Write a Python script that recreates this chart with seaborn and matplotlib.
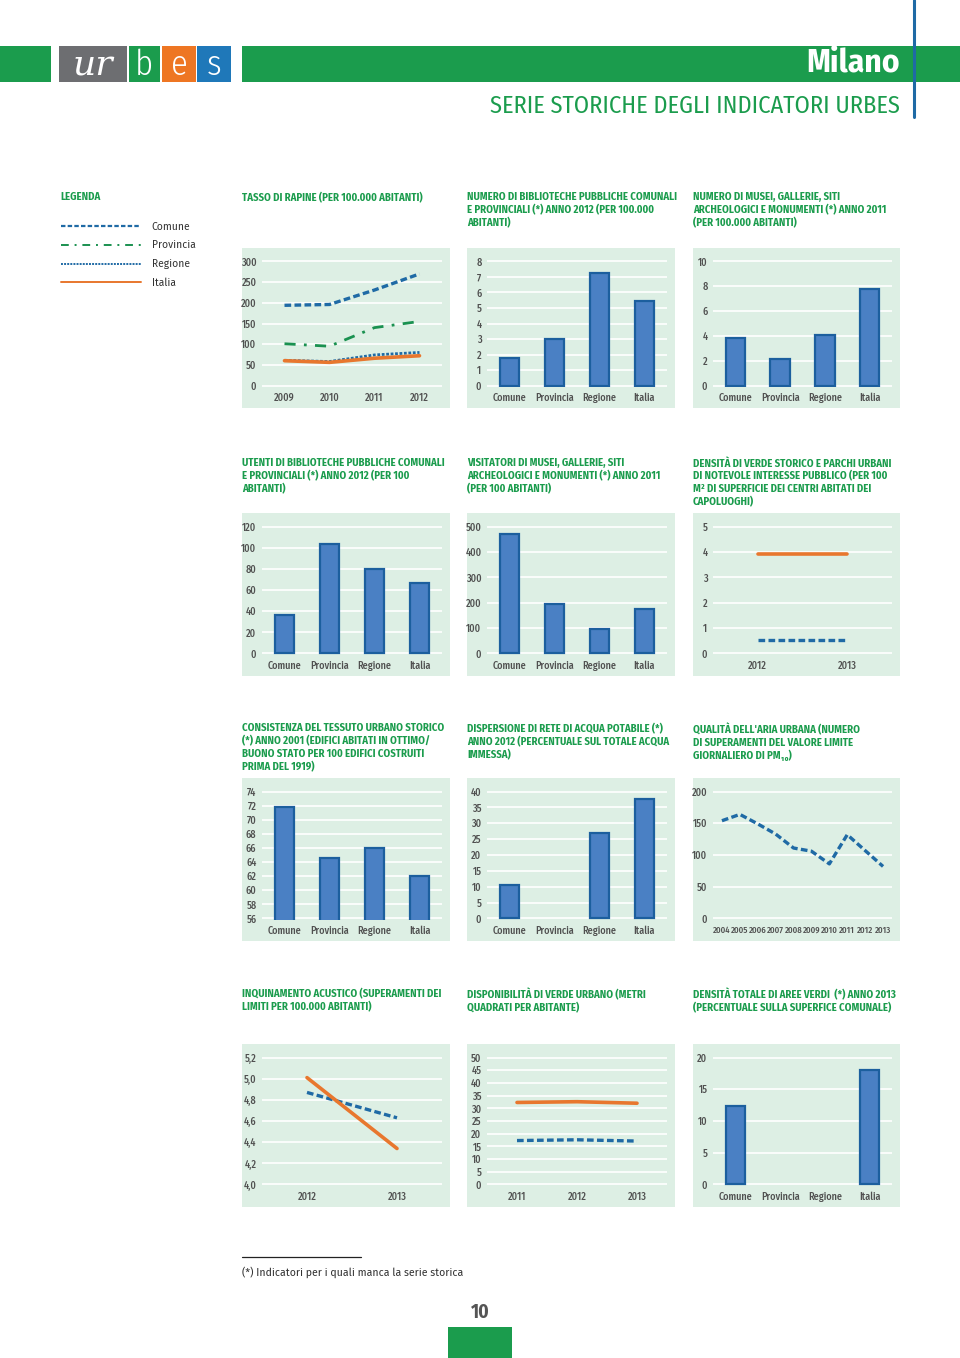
import pandas as pd
import seaborn as sns
import matplotlib.pyplot as plt
from matplotlib.patches import Rectangle
from matplotlib.lines import Line2D

sns.set_theme(style="white")
CONDENSATO = ['Fira Sans Condensed', 'DejaVu Sans']
NORMALE = ['Fira Sans', 'DejaVu Sans']
plt.rcParams['font.family'] = CONDENSATO

# colori
VERDE = '#1b9c4d'
SFONDO = '#ddefe4'
BLU = '#1f6aa5'
BARRA = '#4a80c4'
BORDO = '#1c5f9e'
ARANCIO = '#e8772e'
VERDE_LINEA = '#1a9150'
GRIGIO = '#505050'

territori = ['Comune', 'Provincia', 'Regione', 'Italia']

# tasso di rapine
anni_rapine = ['2009', '2010', '2011', '2012']
rapine_comune = [194, 196, 231, 270]
rapine_provincia = [101, 95, 140, 155]
rapine_regione = [61, 58, 74, 80]
rapine_italia = [60, 56, 66, 72]

# grafici a barre
biblioteche = [1.8, 3.0, 7.25, 5.45]
musei = [3.85, 2.1, 4.05, 7.75]
utenti_biblioteche = [36, 103.5, 80, 66.5]
visitatori_musei = [470, 196, 98, 177]
tessuto_storico = [71.85, 64.6, 66.0, 62.0]
dispersione_acqua = [10.6, None, 26.9, 37.7]
aree_verdi = [12.3, None, None, 18.1]

# verde storico
anni_verde_storico = ['2012', '2013']
verde_storico_comune = [0.55, 0.55]
verde_storico_italia = [3.9, 3.9]

# pm10
anni_pm10 = ['2004', '2005', '2006', '2007', '2008', '2009', '2010', '2011', '2012', '2013']
pm10_comune = [154, 164, 149, 133, 111, 106, 86, 132, 107, 82]

# inquinamento acustico
anni_acustico = ['2012', '2013']
acustico_comune = [4.87, 4.63]
acustico_italia = [5.01, 4.34]

# verde urbano
anni_verde_urbano = ['2011', '2012', '2013']
verde_urbano_comune = [17.3, 17.6, 17.1]
verde_urbano_italia = [32.3, 32.6, 32.0]

# stili delle linee
st_comune = dict(color=BLU, linewidth=2.4, linestyle=(0, (2, 1)))
st_provincia = dict(color=VERDE_LINEA, linewidth=2.0, linestyle=(0, (4, 3, 1, 3)))
st_regione = dict(color=BLU, linewidth=2.0, linestyle=(0, (1, 0.6)))
st_italia = dict(color=ARANCIO, linewidth=2.6, linestyle='-')

W, H = 960, 1358
fig = plt.figure(figsize=(W / 100, H / 100), dpi=100)


def fx(x):
    return x / W


def fy(y):
    return 1 - y / H


def rett(x0, y0, x1, y1, colore, z=-5):
    fig.patches.append(Rectangle((fx(x0), fy(y1)), (x1 - x0) / W, (y1 - y0) / H,
                                 transform=fig.transFigure, facecolor=colore,
                                 edgecolor='none', zorder=z))


def pannello(x0, y0, x1, y1, titolo, ty):
    rett(x0, y0, x1, y1, SFONDO)
    fig.text(fx(x0), fy(ty), titolo, color=VERDE, fontsize=7.7, fontweight='bold',
             va='top', ha='left', linespacing=1.22)
    ax = fig.add_axes([fx(x0 + 20), fy(y1 - 21), (x1 - x0 - 28) / W, (y1 - y0 - 33) / H])
    ax.set_facecolor('none')
    return ax


def rifinisci(ax, yticks, etichette=None):
    lo, hi = yticks[0], yticks[-1]
    m = (hi - lo) * 0.012
    ax.set_ylim(lo - m, hi + m)
    if etichette is None:
        etichette = [f'{t:g}' for t in yticks]
    ax.set_yticks(yticks, etichette)
    for s in ax.spines.values():
        s.set_visible(False)
    ax.grid(False)
    ax.grid(axis='y', color='white', linewidth=1.2)
    ax.set_axisbelow(True)
    ax.tick_params(length=0, labelsize=7.3, labelcolor=GRIGIO, pad=4)
    for t in ax.get_xticklabels() + ax.get_yticklabels():
        t.set_fontweight(500)
    ax.set_xlabel('')
    ax.set_ylabel('')


def barre(ax, valori, yticks):
    df = pd.DataFrame({'territorio': territori, 'valore': valori}).dropna()
    sns.barplot(data=df, x='territorio', y='valore', order=territori, color=BARRA,
                edgecolor=BORDO, linewidth=1.6, width=0.44, saturation=1, ax=ax)
    ax.set_xlim(-0.5, 3.5)
    rifinisci(ax, yticks)


def linee(ax, anni, serie, yticks, etichette=None):
    pos = list(range(len(anni)))
    for valori, stile in serie:
        sns.lineplot(x=pos, y=valori, ax=ax, **stile)
    ax.set_xlim(-0.5, len(anni) - 0.5)
    ax.set_xticks(pos, anni)
    rifinisci(ax, yticks, etichette)


# intestazione
rett(0, 46, 51, 82, VERDE)
rett(242, 46, 960, 82, VERDE)
rett(59, 46, 127, 82, '#6d6e71')
rett(129, 46, 160, 82, VERDE)
rett(162, 46, 196, 82, '#ee7623')
rett(197, 46, 231, 82, '#1f78b9')
fig.text(fx(93), fy(66), 'ur', color='white', fontsize=26, style='italic',
         family='DejaVu Serif', ha='center', va='center')
for xc, lettera in [(144, 'b'), (179, 'e'), (214, 's')]:
    fig.text(fx(xc), fy(65), lettera, color='white', fontsize=25, fontweight=300,
             ha='center', va='center')
fig.text(fx(900), fy(63), 'Milano', color='white', fontsize=24, fontweight='bold',
         ha='right', va='center')
fig.text(fx(900), fy(106), 'SERIE STORICHE DEGLI INDICATORI URBES', color=VERDE,
         fontsize=17.5, ha='right', va='center')
fig.add_artist(Line2D([fx(914), fx(914)], [fy(0), fy(117)], color='#1f6aa5', linewidth=2.2))

# legenda
fig.text(fx(60), fy(192), 'LEGENDA', color=VERDE, fontsize=7.7, fontweight='bold', va='top')
maniglie = [Line2D([], [], **{**st_comune, 'linewidth': 1.6}),
            Line2D([], [], **{**st_provincia, 'linewidth': 1.4}),
            Line2D([], [], **{**st_regione, 'linewidth': 1.4}),
            Line2D([], [], **{**st_italia, 'linewidth': 1.4})]
leg = fig.legend(maniglie, territori, loc='upper left', bbox_to_anchor=(fx(52), fy(212)),
                 frameon=False, handlelength=7.8, handletextpad=1.0,
                 labelspacing=0.78, prop={'family': NORMALE, 'size': 7.4})
for t in leg.get_texts():
    t.set_color('#333333')

cols = [(242, 450), (467, 675), (693, 900)]
righe = [(248, 408, 192), (513, 676, 458), (778, 941, 723), (1044, 1207, 988)]

# riga 1
(x0, x1), (y0, y1, ty) = cols[0], righe[0]
ax = pannello(x0, y0, x1, y1, 'TASSO DI RAPINE (PER 100.000 ABITANTI)', ty)
linee(ax, anni_rapine, [(rapine_comune, st_comune), (rapine_provincia, st_provincia),
                        (rapine_regione, st_regione), (rapine_italia, st_italia)],
      [0, 50, 100, 150, 200, 250, 300])

(x0, x1) = cols[1]
ax = pannello(x0, y0, x1, y1, 'NUMERO DI BIBLIOTECHE PUBBLICHE COMUNALI\nE PROVINCIALI (*) ANNO 2012 (PER 100.000\nABITANTI)', ty)
barre(ax, biblioteche, [0, 1, 2, 3, 4, 5, 6, 7, 8])

(x0, x1) = cols[2]
ax = pannello(x0, y0, x1, y1, 'NUMERO DI MUSEI, GALLERIE, SITI\nARCHEOLOGICI E MONUMENTI (*) ANNO 2011\n(PER 100.000 ABITANTI)', ty)
barre(ax, musei, [0, 2, 4, 6, 8, 10])

# riga 2
(y0, y1, ty) = righe[1]
(x0, x1) = cols[0]
ax = pannello(x0, y0, x1, y1, 'UTENTI DI BIBLIOTECHE PUBBLICHE COMUNALI\nE PROVINCIALI (*) ANNO 2012 (PER 100\nABITANTI)', ty)
barre(ax, utenti_biblioteche, [0, 20, 40, 60, 80, 100, 120])

(x0, x1) = cols[1]
ax = pannello(x0, y0, x1, y1, 'VISITATORI DI MUSEI, GALLERIE, SITI\nARCHEOLOGICI E MONUMENTI (*) ANNO 2011\n(PER 100 ABITANTI)', ty)
barre(ax, visitatori_musei, [0, 100, 200, 300, 400, 500])

(x0, x1) = cols[2]
ax = pannello(x0, y0, x1, y1, 'DENSITÀ DI VERDE STORICO E PARCHI URBANI\nDI NOTEVOLE INTERESSE PUBBLICO (PER 100\nM² DI SUPERFICIE DEI CENTRI ABITATI DEI\nCAPOLUOGHI)', ty)
linee(ax, anni_verde_storico, [(verde_storico_italia, st_italia), (verde_storico_comune, st_comune)],
      [0, 1, 2, 3, 4, 5])

# riga 3
(y0, y1, ty) = righe[2]
(x0, x1) = cols[0]
ax = pannello(x0, y0, x1, y1, 'CONSISTENZA DEL TESSUTO URBANO STORICO\n(*) ANNO 2001 (EDIFICI ABITATI IN OTTIMO/\nBUONO STATO PER 100 EDIFICI COSTRUITI\nPRIMA DEL 1919)', ty)
barre(ax, tessuto_storico, [56, 58, 60, 62, 64, 66, 68, 70, 72, 74])

(x0, x1) = cols[1]
ax = pannello(x0, y0, x1, y1, 'DISPERSIONE DI RETE DI ACQUA POTABILE (*)\nANNO 2012 (PERCENTUALE SUL TOTALE ACQUA\nIMMESSA)', ty)
barre(ax, dispersione_acqua, [0, 5, 10, 15, 20, 25, 30, 35, 40])

(x0, x1) = cols[2]
ax = pannello(x0, y0, x1, y1, "QUALITÀ DELL'ARIA URBANA (NUMERO\nDI SUPERAMENTI DEL VALORE LIMITE\nGIORNALIERO DI PM₁₀)", ty)
linee(ax, anni_pm10, [(pm10_comune, st_comune)], [0, 50, 100, 150, 200])
ax.tick_params(axis='x', labelsize=6.3)

# riga 4
(y0, y1, ty) = righe[3]
(x0, x1) = cols[0]
ax = pannello(x0, y0, x1, y1, 'INQUINAMENTO ACUSTICO (SUPERAMENTI DEI\nLIMITI PER 100.000 ABITANTI)', ty)
tick_acustico = [4.0, 4.2, 4.4, 4.6, 4.8, 5.0, 5.2]
linee(ax, anni_acustico, [(acustico_comune, st_comune), (acustico_italia, st_italia)],
      tick_acustico, [f'{t:.1f}'.replace('.', ',') for t in tick_acustico])

(x0, x1) = cols[1]
ax = pannello(x0, y0, x1, y1, 'DISPONIBILITÀ DI VERDE URBANO (METRI\nQUADRATI PER ABITANTE)', ty)
linee(ax, anni_verde_urbano, [(verde_urbano_italia, st_italia), (verde_urbano_comune, st_comune)],
      [0, 5, 10, 15, 20, 25, 30, 35, 40, 45, 50])

(x0, x1) = cols[2]
ax = pannello(x0, y0, x1, y1, 'DENSITÀ TOTALE DI AREE VERDI  (*) ANNO 2013\n(PERCENTUALE SULLA SUPERFICE COMUNALE)', ty)
barre(ax, aree_verdi, [0, 5, 10, 15, 20])

# nota e numero di pagina
fig.add_artist(Line2D([fx(242), fx(361)], [fy(1257), fy(1257)], color='#222222', linewidth=0.9))
fig.text(fx(242), fy(1272), '(*) Indicatori per i quali manca la serie storica',
         color='#333333', fontsize=7.6, family=NORMALE, va='center')
fig.text(fx(480), fy(1312), '10', color='#555555', fontsize=14, fontweight='bold',
         ha='center', va='center')
rett(448, 1327, 512, 1358, VERDE)

fig.savefig('out.png', dpi=100)
